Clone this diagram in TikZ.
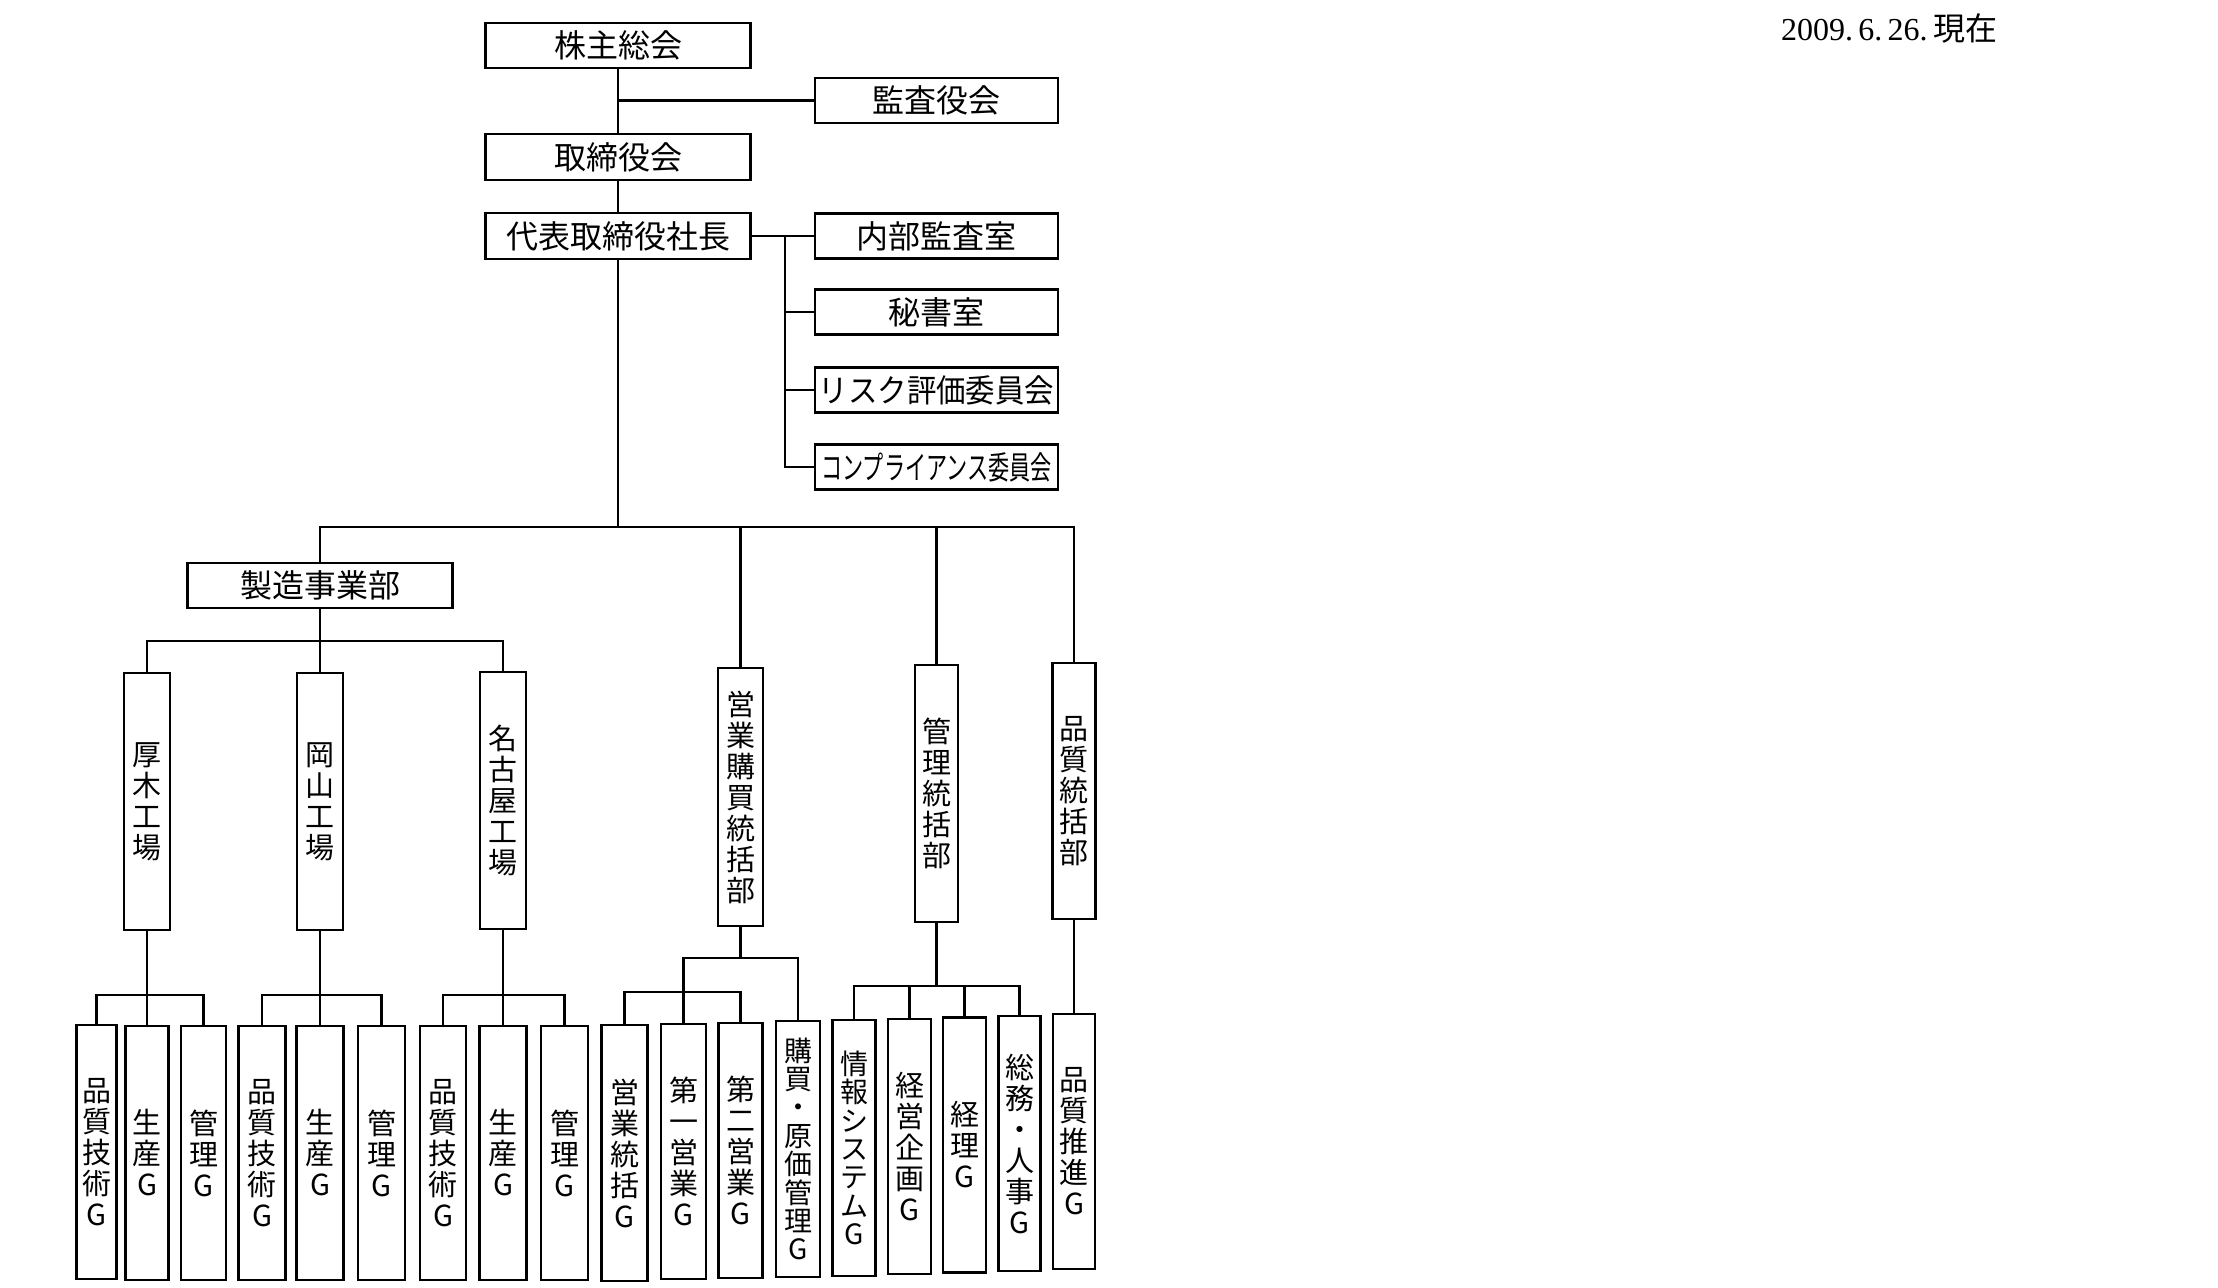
\documentclass[tikz,border=0pt]{standalone}
\usepackage{graphicx}
\usepackage{fontspec}
\setmainfont{Noto Sans CJK JP}
\newfontfamily\dateserif{Liberation Serif}
\setlength{\lineskiplimit}{-20pt}
\begin{document}
\begin{tikzpicture}[x=0.5pt,y=-0.5pt,
 line width=1.4pt,
 hb/.style 2 args={draw,inner sep=0pt,minimum width=#1*0.5pt,minimum height=#2*0.5pt,font=\fontsize{16pt}{16pt}\selectfont},
 vb/.style 2 args={draw,inner sep=0pt,align=center,minimum width=#1*0.5pt,minimum height=#2*0.5pt,font=\fontsize{14.5pt}{15.5pt}\selectfont},
 tight/.style={font=\fontsize{14pt}{14.2pt}\selectfont}
]
\useasboundingbox (0,0) rectangle (2218,1288);

% date
\node[font=\fontsize{16pt}{16pt}\selectfont] (date) at (1889,28) {{\dateserif 2009.\,6.\,26.}\,現在};

% top
\node[hb={265}{45}] (kabu) at (618,45.5) {株主総会};
\node[hb={243}{45}] (kansa) at (936.5,100.5) {監査役会};
\node[hb={265}{46}] (tori) at (618,157) {取締役会};
\node[hb={265}{46}] (shacho) at (618,236) {代表取締役社長};
\node[hb={243}{45}] (naibu) at (936.5,236) {内部監査室};
\node[hb={243}{45}] (hisho) at (936.5,312) {秘書室};
\node[hb={243}{45}] (risk) at (936.5,390) {\scalebox{0.92}[1]{リスク評価委員会}};
\node[hb={243}{45}] (compl) at (936.5,467) {\scalebox{0.66}[1]{コンプライアンス委員会}};

\draw (kabu) -- (tori);
\draw (kabu.south |- kansa.west) -- (kansa.west);
\draw (tori) -- (shacho);
\coordinate (sv) at (785,236);
\draw (shacho.east) -- (naibu.west);
\draw (sv) |- (hisho.west);
\draw (sv) |- (risk.west);
\draw (sv) |- (compl.west);

% divisions
\node[hb={265}{45}] (seizo) at (320,585.5) {製造事業部};
\node[vb={46}{257}] (atsugi) at (147,801.5) {厚\\木\\工\\場};
\node[vb={46}{257}] (okayama) at (320,801.5) {岡\\山\\工\\場};
\node[vb={46}{257}] (nagoya) at (503,800.5) {名\\古\\屋\\工\\場};
\node[vb={45}{258}] (eigyo) at (740.5,797) {営\\業\\購\\買\\統\\括\\部};
\node[vb={43}{257}] (kanri) at (936.5,793.5) {管\\理\\統\\括\\部};
\node[vb={43}{256}] (hin) at (1074,791) {品\\質\\統\\括\\部};

\coordinate (b1) at (0,527);
\draw (shacho.south) -- (shacho.south |- b1);
\draw (seizo.north) |- (hin.north |- b1) -- (hin.north);
\draw (eigyo.north) -- (eigyo.north |- b1);
\draw (kanri.north) -- (kanri.north |- b1);

\coordinate (b2) at (0,641);
\draw (seizo.south) -- (okayama.north);
\draw (atsugi.north) |- (nagoya.north |- b2) -- (nagoya.north);

% bottom groups: factories
\node[vb={40}{254}] (a1) at (96.5,1152) {品\\質\\技\\術\\G};
\node[vb={43}{254}] (a2) at (147,1153) {生\\産\\G};
\node[vb={45}{254}] (a3) at (203.5,1153) {管\\理\\G};
\node[vb={47}{254}] (o1) at (262,1153) {品\\質\\技\\術\\G};
\node[vb={47}{254}] (o2) at (320,1153) {生\\産\\G};
\node[vb={47}{254}] (o3) at (381.5,1153) {管\\理\\G};
\node[vb={46}{254}] (g1) at (443,1153) {品\\質\\技\\術\\G};
\node[vb={47}{254}] (g2) at (503,1153) {生\\産\\G};
\node[vb={47}{254}] (g3) at (564.5,1153) {管\\理\\G};

\coordinate (b3) at (0,995);
\draw (atsugi.south) -- (a2.north);
\draw (a1.north) |- (a3.north |- b3) -- (a3.north);
\draw (okayama.south) -- (o2.north);
\draw (o1.north) |- (o3.north |- b3) -- (o3.north);
\draw (nagoya.south) -- (g2.north);
\draw (g1.north) |- (g3.north |- b3) -- (g3.north);

% eigyo group
\node[vb={46}{256}] (e1) at (624.5,1153) {営\\業\\統\\括\\G};
\node[vb={45}{255}] (e2) at (683.5,1151.5) {第\\一\\営\\業\\G};
\node[vb={44}{255}] (e3) at (740.5,1150.5) {第\\二\\営\\業\\G};
\node[vb={44}{256},tight] (e4) at (798,1149) {購\\買\\・\\原\\価\\管\\理\\G};

\coordinate (eb1) at (0,958);
\coordinate (eb2) at (0,992);
\draw (eigyo.south) -- (eigyo.south |- eb1);
\draw (e2.north) |- (e4.north |- eb1) -- (e4.north);
\draw (e1.north) |- (e3.north |- eb2) -- (e3.north);

% kanri group
\node[vb={43}{256},tight] (k1) at (854,1148) {情\\報\\シ\\ス\\テ\\ム\\G};
\node[vb={43}{255}] (k2) at (909.5,1146.5) {経\\営\\企\\画\\G};
\node[vb={43}{255}] (k3) at (964.5,1145) {経\\理\\G};
\node[vb={42}{255}] (k4) at (1019.5,1143.5) {総\\務\\・\\人\\事\\G};

\coordinate (kb) at (0,986);
\draw (kanri.south) -- (kanri.south |- kb);
\draw (k1.north) |- (k4.north |- kb) -- (k4.north);
\draw (k2.north) -- (k2.north |- kb);
\draw (k3.north) -- (k3.north |- kb);

% hinshitsu group
\node[vb={42}{255}] (h1) at (1074,1141.5) {品\\質\\推\\進\\G};
\draw (hin.south) -- (h1.north);
\end{tikzpicture}
\end{document}
